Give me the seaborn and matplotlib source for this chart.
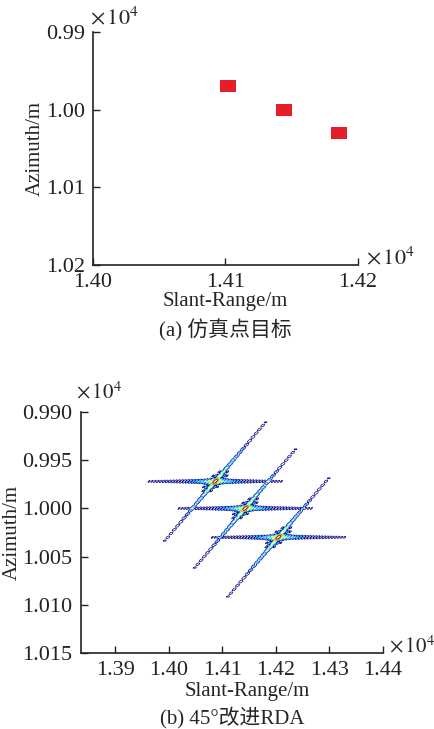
#!/usr/bin/env python

import numpy as np
import matplotlib.pyplot as plt
import seaborn as sns
from matplotlib.ticker import FuncFormatter

sns.set_style("ticks")
plt.rcParams["font.family"] = ["Liberation Serif", "Noto Sans CJK SC"]
plt.rcParams["mathtext.fontset"] = "stix"
plt.rcParams["font.size"] = 15

# (a) simulated point targets, metres
sim_range = [14102, 14144, 14186]
sim_azimuth = [9970, 10000, 10030]

# (b) focused target peaks after the 45 deg improved RDA, metres
rda_range = [14087, 14143, 14205]
rda_azimuth = [9972, 10000, 10030]

# point response shape
rho_range = 5.5       # sidelobe spacing along range, m
rho_az = 4.0          # sidelobe spacing along azimuth, m
skew = 1.53           # range shift per metre of azimuth (squint line)
half_len_range = 125  # visible tail length, m
half_len_az = 62
width_range = 3.0     # thickness of the squint line, m of range
width_az = 1.8        # thickness of the range line, m of azimuth
db_levels = [-40, -30, -20, -10, -4]


def tail(u, rho, half_len):
    # sinc sidelobes, nulls filled near the peak
    s = np.maximum(np.abs(np.sinc(u / rho)), 0.1 * np.exp(-np.abs(u) / 15.0))
    return s * (np.abs(u) < half_len)


fig = plt.figure(figsize=(4.35, 7.29), dpi=100)
ax1 = fig.add_axes([0.2138, 0.6365, 0.609, 0.3196])
ax2 = fig.add_axes([0.186, 0.1043, 0.694, 0.3306])

# ---- (a)
sq = [(-1, -0.77), (1, -0.77), (1, 0.77), (-1, 0.77), (-1, -0.77)]
sns.scatterplot(x=sim_range, y=sim_azimuth, marker=sq, s=130,
                color="#e61e2a", edgecolor="none", ax=ax1, legend=False)
ax1.set_xlim(14000, 14200)
ax1.set_ylim(10200, 9900)
ax1.set_xticks([14000, 14100, 14200])
ax1.set_yticks([9900, 10000, 10100, 10200])
ax1.xaxis.set_major_formatter(FuncFormatter(lambda v, p: f"{v / 1e4:.2f}"))
ax1.yaxis.set_major_formatter(FuncFormatter(lambda v, p: f"{v / 1e4:.2f}"))
ax1.set_xlabel("Slant-Range/m", fontsize=15)
ax1.set_ylabel("Azimuth/m", fontsize=15)
ax1.xaxis.set_label_coords(0.5, -0.118)
ax1.yaxis.set_label_coords(-0.183, 0.5)
ax1.text(-0.01, 1.06, r"$\times\,10^4$", transform=ax1.transAxes,
         ha="left", va="center", fontsize=16)
ax1.text(1.03, 0.03, r"$\times\,10^4$", transform=ax1.transAxes,
         ha="left", va="center", fontsize=16)

# ---- (b) contour of the focused point responses (dB)
xg = np.arange(13836, 14400, 0.5)
yg = np.arange(9900, 10150, 0.4)
X, Y = np.meshgrid(xg, yg)
amp = np.zeros_like(X)
for r0, a0 in zip(rda_range, rda_azimuth):
    q = Y - a0
    p = (X - r0) + skew * q
    line_r = tail(p, rho_range, half_len_range) * np.exp(-(q / width_az) ** 2)
    line_a = tail(q, rho_az, half_len_az) * np.exp(-(p / width_range) ** 2)
    core = np.abs(np.sinc(p / rho_range) * np.sinc(q / rho_az)) \
        * np.exp(-(p ** 2 + q ** 2) / 18.0 ** 2)
    amp = np.maximum(amp, np.maximum(core, np.maximum(line_r, line_a)))
db = 20 * np.log10(amp + 1e-6)
ax2.contour(X, Y, db, levels=db_levels, cmap="jet", linewidths=0.5)

ax2.set_xlim(13836, 14400)
ax2.set_ylim(10150, 9900)
ax2.set_xticks(np.arange(13900, 14401, 100))
ax2.set_yticks(np.arange(9900, 10151, 50))
ax2.xaxis.set_major_formatter(FuncFormatter(lambda v, p: f"{v / 1e4:.2f}"))
ax2.yaxis.set_major_formatter(FuncFormatter(lambda v, p: f"{v / 1e4:.3f}"))
ax2.set_xlabel("Slant-Range/m", fontsize=15)
ax2.set_ylabel("Azimuth/m", fontsize=15)
ax2.xaxis.set_label_coords(0.55, -0.12)
ax2.yaxis.set_label_coords(-0.195, 0.5)
ax2.text(-0.015, 1.079, r"$\times\,10^4$", transform=ax2.transAxes,
         ha="left", va="center", fontsize=15)
ax2.text(1.022, 0.025, r"$\times\,10^4$", transform=ax2.transAxes,
         ha="left", va="center", fontsize=15)

for ax in (ax1, ax2):
    sns.despine(ax=ax)
    for s in ("left", "bottom"):
        ax.spines[s].set_linewidth(1.2)
        ax.spines[s].set_color("#222222")
    ax.tick_params(direction="in", length=5, width=1, colors="#222222",
                   labelsize=16, pad=6)

fig.text(0.517, 1 - 330 / 729, "(a) 仿真点目标", ha="center", va="center",
         fontsize=15)
fig.text(0.533, 1 - 717 / 729, "(b) 45°改进RDA", ha="center", va="center",
         fontsize=15)

plt.savefig("out.png", dpi=100)
plt.close("all")
